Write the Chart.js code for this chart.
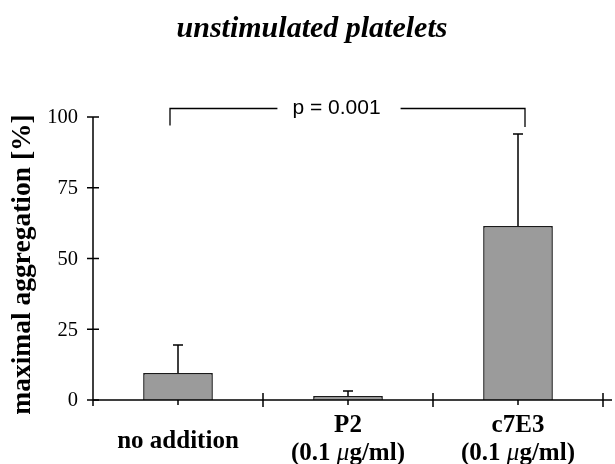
<!DOCTYPE html>
<html>
<head>
<meta charset="utf-8">
<script src="https://cdn.jsdelivr.net/npm/chart.js@4"></script>
<style>
  body { margin: 0; background: #fff; }
  #wrap { width: 615px; height: 464px; }
</style>
</head>
<body>
<div id="wrap"><canvas id="aggChart" width="615" height="464"></canvas></div>
<script>
// values
const categories = ['no addition', 'P2', 'c7E3'];
const subLabels = ['', '(0.1 |\u03bc|g/ml)', '(0.1 |\u03bc|g/ml)'];  // middle run is italic
const meanValues = [9.5, 1.4, 61.5];
const sdValues = [9.9, 1.8, 32.5];
const yTicks = [0, 25, 50, 75, 100];
const chartTitle = 'unstimulated platelets';
const yTitle = 'maximal aggregation [%]';
const pLabel = 'p = 0.001';
const bracketPair = [0, 2];
const bracketLevel = 103;
const bracketLegs = [97, 96.5];

const SERIF = '"Liberation Serif", "Times New Roman", serif';

// draws "a|b|c" centred at cx with the middle part in italic
function drawMixed(ctx, text, cx, cy, size) {
    const parts = text.split('|');
    const fonts = ['bold ' + size + 'px ' + SERIF, 'italic ' + size + 'px ' + SERIF, 'bold ' + size + 'px ' + SERIF];
    let widths = parts.map((p, i) => { ctx.font = fonts[i]; return ctx.measureText(p).width; });
    let total = widths.reduce((a, b) => a + b, 0);
    let px = cx - total / 2;
    ctx.textAlign = 'left';
    parts.forEach((p, i) => {
        ctx.font = fonts[i];
        ctx.fillText(p, px, cy);
        px += widths[i];
    });
    ctx.textAlign = 'center';
}

// axes, ticks, labels, error bars and significance bracket
const decorations = {
    id: 'decorations',
    afterDatasetsDraw(chart) {
        const ctx = chart.ctx;
        const x = chart.scales.x;
        const y = chart.scales.y;
        const area = chart.chartArea;
        const step = x.getPixelForValue(1) - x.getPixelForValue(0);
        ctx.save();
        ctx.strokeStyle = '#000';
        ctx.fillStyle = '#000';
        ctx.lineWidth = 1.5;

        // error bars (upper only)
        meanValues.forEach((v, i) => {
            const cx = x.getPixelForValue(i);
            const top = y.getPixelForValue(v + sdValues[i]);
            ctx.beginPath();
            ctx.moveTo(cx, y.getPixelForValue(v));
            ctx.lineTo(cx, top);
            ctx.moveTo(cx - 5, top);
            ctx.lineTo(cx + 5, top);
            ctx.stroke();
        });

        // y axis
        ctx.beginPath();
        ctx.moveTo(area.left, y.getPixelForValue(100));
        ctx.lineTo(area.left, y.getPixelForValue(0) + 6);
        yTicks.forEach(t => {
            const py = y.getPixelForValue(t);
            ctx.moveTo(area.left - 6, py);
            ctx.lineTo(area.left + 6, py);
        });
        ctx.stroke();

        // x axis
        const y0 = y.getPixelForValue(0);
        ctx.beginPath();
        ctx.moveTo(area.left, y0);
        ctx.lineTo(area.right + 9, y0);
        categories.forEach((c, i) => {
            const cx = x.getPixelForValue(i);
            const bx = cx + step / 2;
            ctx.moveTo(bx, y0 - 7);
            ctx.lineTo(bx, y0 + 7);
            ctx.moveTo(cx, y0);
            ctx.lineTo(cx, y0 + 5);
        });
        ctx.stroke();

        // y tick labels
        ctx.font = '20.5px ' + SERIF;
        ctx.textAlign = 'right';
        ctx.textBaseline = 'middle';
        yTicks.forEach(t => ctx.fillText(String(t), area.left - 15, y.getPixelForValue(t) + 1));

        // x labels
        ctx.textAlign = 'center';
        ctx.textBaseline = 'alphabetic';
        categories.forEach((c, i) => {
            const cx = x.getPixelForValue(i);
            ctx.font = 'bold 25px ' + SERIF;
            if (subLabels[i]) {
                ctx.fillText(c, cx, y0 + 32);
                drawMixed(ctx, subLabels[i], cx, y0 + 60, 25);
            } else {
                ctx.fillText(c, cx, y0 + 48);
            }
        });

        // y title
        ctx.save();
        ctx.translate(23, (y.getPixelForValue(0) + y.getPixelForValue(100)) / 2 + 6);
        ctx.rotate(-Math.PI / 2);
        ctx.font = 'bold 27.5px ' + SERIF;
        ctx.textBaseline = 'middle';
        ctx.fillText(yTitle, 0, 0);
        ctx.restore();

        // chart title
        ctx.font = 'italic bold 30px ' + SERIF;
        ctx.fillText(chartTitle, 312, 37);

        // significance bracket
        const lx = x.getPixelForValue(bracketPair[0]) - 8;
        const rx = x.getPixelForValue(bracketPair[1]) + 7;
        const by = y.getPixelForValue(bracketLevel);
        ctx.font = '21px "Liberation Sans", Arial, sans-serif';
        ctx.textBaseline = 'middle';
        const tx = (lx + rx) / 2 - 11;
        const tw = ctx.measureText(pLabel).width;
        ctx.fillText(pLabel, tx, by);
        ctx.lineWidth = 1.3;
        ctx.beginPath();
        ctx.moveTo(lx, y.getPixelForValue(bracketLegs[0]));
        ctx.lineTo(lx, by);
        ctx.lineTo(tx - tw / 2 - 15, by);
        ctx.moveTo(tx + tw / 2 + 20, by);
        ctx.lineTo(rx, by);
        ctx.lineTo(rx, y.getPixelForValue(bracketLegs[1]));
        ctx.stroke();

        ctx.restore();
    }
};

new Chart(document.getElementById('aggChart'), {
    type: 'bar',
    data: {
        labels: categories,
        datasets: [{
            data: meanValues,
            backgroundColor: '#9b9b9b',
            borderColor: '#1a1a1a',
            borderWidth: 1.5,
            borderSkipped: 'bottom',
            categoryPercentage: 1,
            barPercentage: 0.41
        }]
    },
    options: {
        responsive: false,
        animation: false,
        devicePixelRatio: 1,
        layout: { padding: { left: 93, right: 12, top: 117, bottom: 64 } },
        plugins: {
            legend: { display: false },
            title: { display: false },
            tooltip: { enabled: false }
        },
        scales: {
            x: { display: false, offset: true },
            y: { display: false, min: 0, max: 100 }
        }
    },
    plugins: [decorations]
});
</script>
</body>
</html>
